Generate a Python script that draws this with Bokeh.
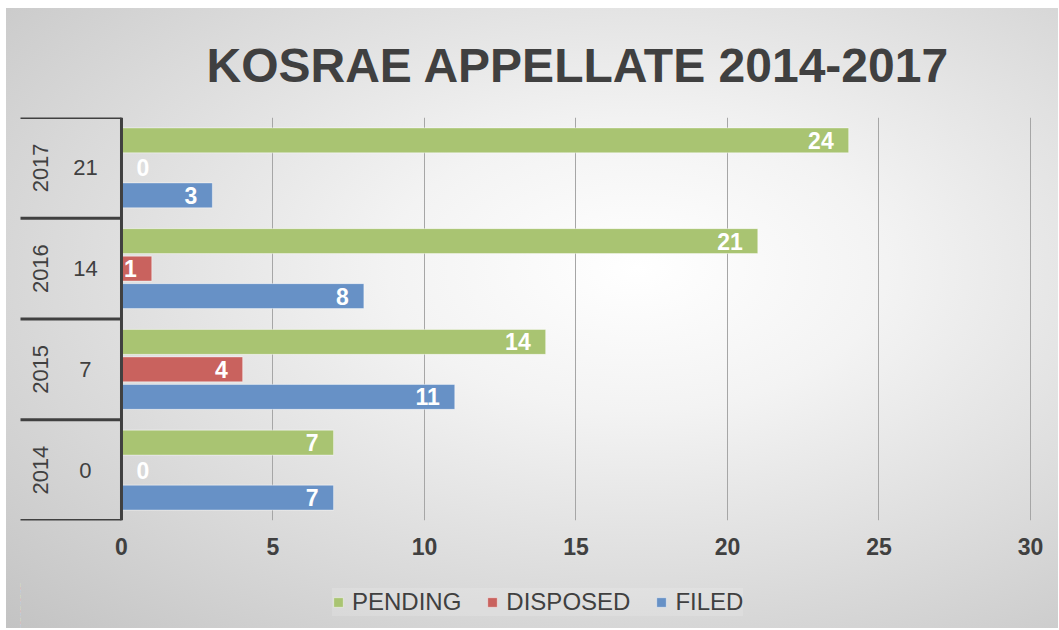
import math
from bokeh.plotting import figure
from bokeh.layouts import column
from bokeh.models import (ColumnDataSource, Range1d, FixedTicker, Span,
                          Legend, LegendItem, Title)
from bokeh.core.properties import value
from bokeh.embed import file_html
from bokeh.resources import INLINE

# ---- data ----
years = ["2014", "2015", "2016", "2017"]
inner_labels = ["0", "7", "14", "21"]
pending = [7, 14, 21, 24]
disposed = [0, 4, 1, 0]
filed = [7, 11, 8, 3]
x_ticks = [0, 5, 10, 15, 20, 25, 30]

series_order = ["PENDING", "DISPOSED", "FILED"]
colors = {"PENDING": "#a9c472", "DISPOSED": "#c9625e", "FILED": "#6791c6"}
values = {"PENDING": pending, "DISPOSED": disposed, "FILED": filed}
dodge_off = {"PENDING": 0.273, "DISPOSED": 0.0, "FILED": -0.273}
BAR_H = 0.248

FONT = "Liberation Sans"
TXT = "#404040"

n = len(years)
centers = [i + 0.5 for i in range(n)]

p = figure(width=1052, height=574, output_backend="svg", toolbar_location=None,
           x_range=Range1d(-3.333, 30.33), y_range=Range1d(0, n),
           min_border_left=14, min_border_right=18, min_border_top=109,
           min_border_bottom=62)
p.background_fill_alpha = 0
p.border_fill_alpha = 0
p.outline_line_color = None

t = Title(text="KOSRAE APPELLATE 2014-2017", align="left", offset=186,
          text_font=FONT, text_font_size="48px", text_font_style="bold",
          text_color=TXT, standoff=52)
p.add_layout(t, "above")

for s in series_order:
    ys = [c + dodge_off[s] for c in centers]
    vals = values[s]
    src = ColumnDataSource(dict(y=ys, v=vals))
    p.hbar(y="y", left=0, right="v", height=BAR_H, source=src,
           fill_color=colors[s], line_color="white", line_alpha=0.45, line_width=1)
    nz = [i for i, v in enumerate(vals) if v != 0]
    z = [i for i, v in enumerate(vals) if v == 0]
    lsrc = ColumnDataSource(dict(y=[ys[i] for i in nz], v=[vals[i] for i in nz],
                                 t=[str(vals[i]) for i in nz]))
    p.text(x="v", y="y", text="t", source=lsrc, x_offset=-15, text_align="right",
           text_baseline="middle", text_color="white", text_font=value(FONT),
           text_font_size="23px", text_font_style="bold")
    if z:
        zsrc = ColumnDataSource(dict(y=[ys[i] for i in z], v=[vals[i] for i in z],
                                     t=[str(vals[i]) for i in z]))
        p.text(x="v", y="y", text="t", source=zsrc, x_offset=15, text_align="left",
               text_baseline="middle", text_color="white", text_font=value(FONT),
               text_font_size="23px", text_font_style="bold")

# two-level category labels drawn inside the frame
cat = ColumnDataSource(dict(y=centers, yl=[-2.67] * n, il=[-1.19] * n, t=years, lab=inner_labels))
p.text(x="yl", y="y", text="t", source=cat, angle=math.pi / 2, text_align="center",
       text_baseline="middle", text_color=TXT, text_font=value(FONT), text_font_size="22px")
p.text(x="il", y="y", text="lab", source=cat, text_align="center",
       text_baseline="middle", text_color=TXT, text_font=value(FONT), text_font_size="22px")

# separators at group boundaries
bounds = list(range(n + 1))
p.segment(x0=[-3.4] * len(bounds), x1=[0] * len(bounds), y0=bounds, y1=bounds,
          line_color=TXT, line_width=3)
p.add_layout(Span(location=0, dimension="height", line_color=TXT, line_width=3))

# axes
p.yaxis.visible = False
p.ygrid.visible = False
p.xaxis.ticker = FixedTicker(ticks=x_ticks)
p.xgrid.ticker = FixedTicker(ticks=x_ticks)
p.xgrid.grid_line_color = "#a6a6a6"
p.xgrid.grid_line_width = 1
p.xaxis.axis_line_color = None
p.xaxis.major_tick_line_color = None
p.xaxis.minor_tick_line_color = None
p.xaxis.major_tick_out = 0
p.xaxis.major_tick_in = 0
p.xaxis.major_label_standoff = 17
p.xaxis.major_label_text_font = FONT
p.xaxis.major_label_text_font_size = "23px"
p.xaxis.major_label_text_font_style = "bold"
p.xaxis.major_label_text_color = TXT

# legend strip below the chart (frame borders match the main chart)
p2 = figure(width=1052, height=46, output_backend="svg", toolbar_location=None,
            x_range=Range1d(100, 101), y_range=Range1d(0, n),
            min_border_left=14, min_border_right=18, min_border_top=0, min_border_bottom=0)
p2.background_fill_alpha = 0
p2.border_fill_alpha = 0
p2.outline_line_color = None
p2.axis.visible = False
p2.grid.visible = False
items = []
for s in series_order:
    src = ColumnDataSource(dict(y=[c + dodge_off[s] for c in centers], v=values[s]))
    r = p2.hbar(y="y", left=0, right="v", height=BAR_H, source=src,
                fill_color=colors[s], line_color="white", line_alpha=0.45, line_width=1)
    items.append(LegendItem(label=s, renderers=[r]))
legend = Legend(items=items, orientation="horizontal", location=(312, 12),
                label_text_font=FONT, label_text_font_size="24px", label_text_color=TXT,
                glyph_width=12, glyph_height=12, label_standoff=8, spacing=25,
                background_fill_color="white", background_fill_alpha=0.15,
                border_line_color=None, margin=0, padding=5)
p2.add_layout(legend)

layout = column(p, p2, spacing=0, margin=(8, 0, 0, 6),
                styles={"background-image": "radial-gradient(ellipse farthest-corner at 60% 42%, #ffffff 0%, #f3f3f3 28%, #c3c3c3 100%)"})

open("out.html", "w").write(file_html(layout, INLINE))
